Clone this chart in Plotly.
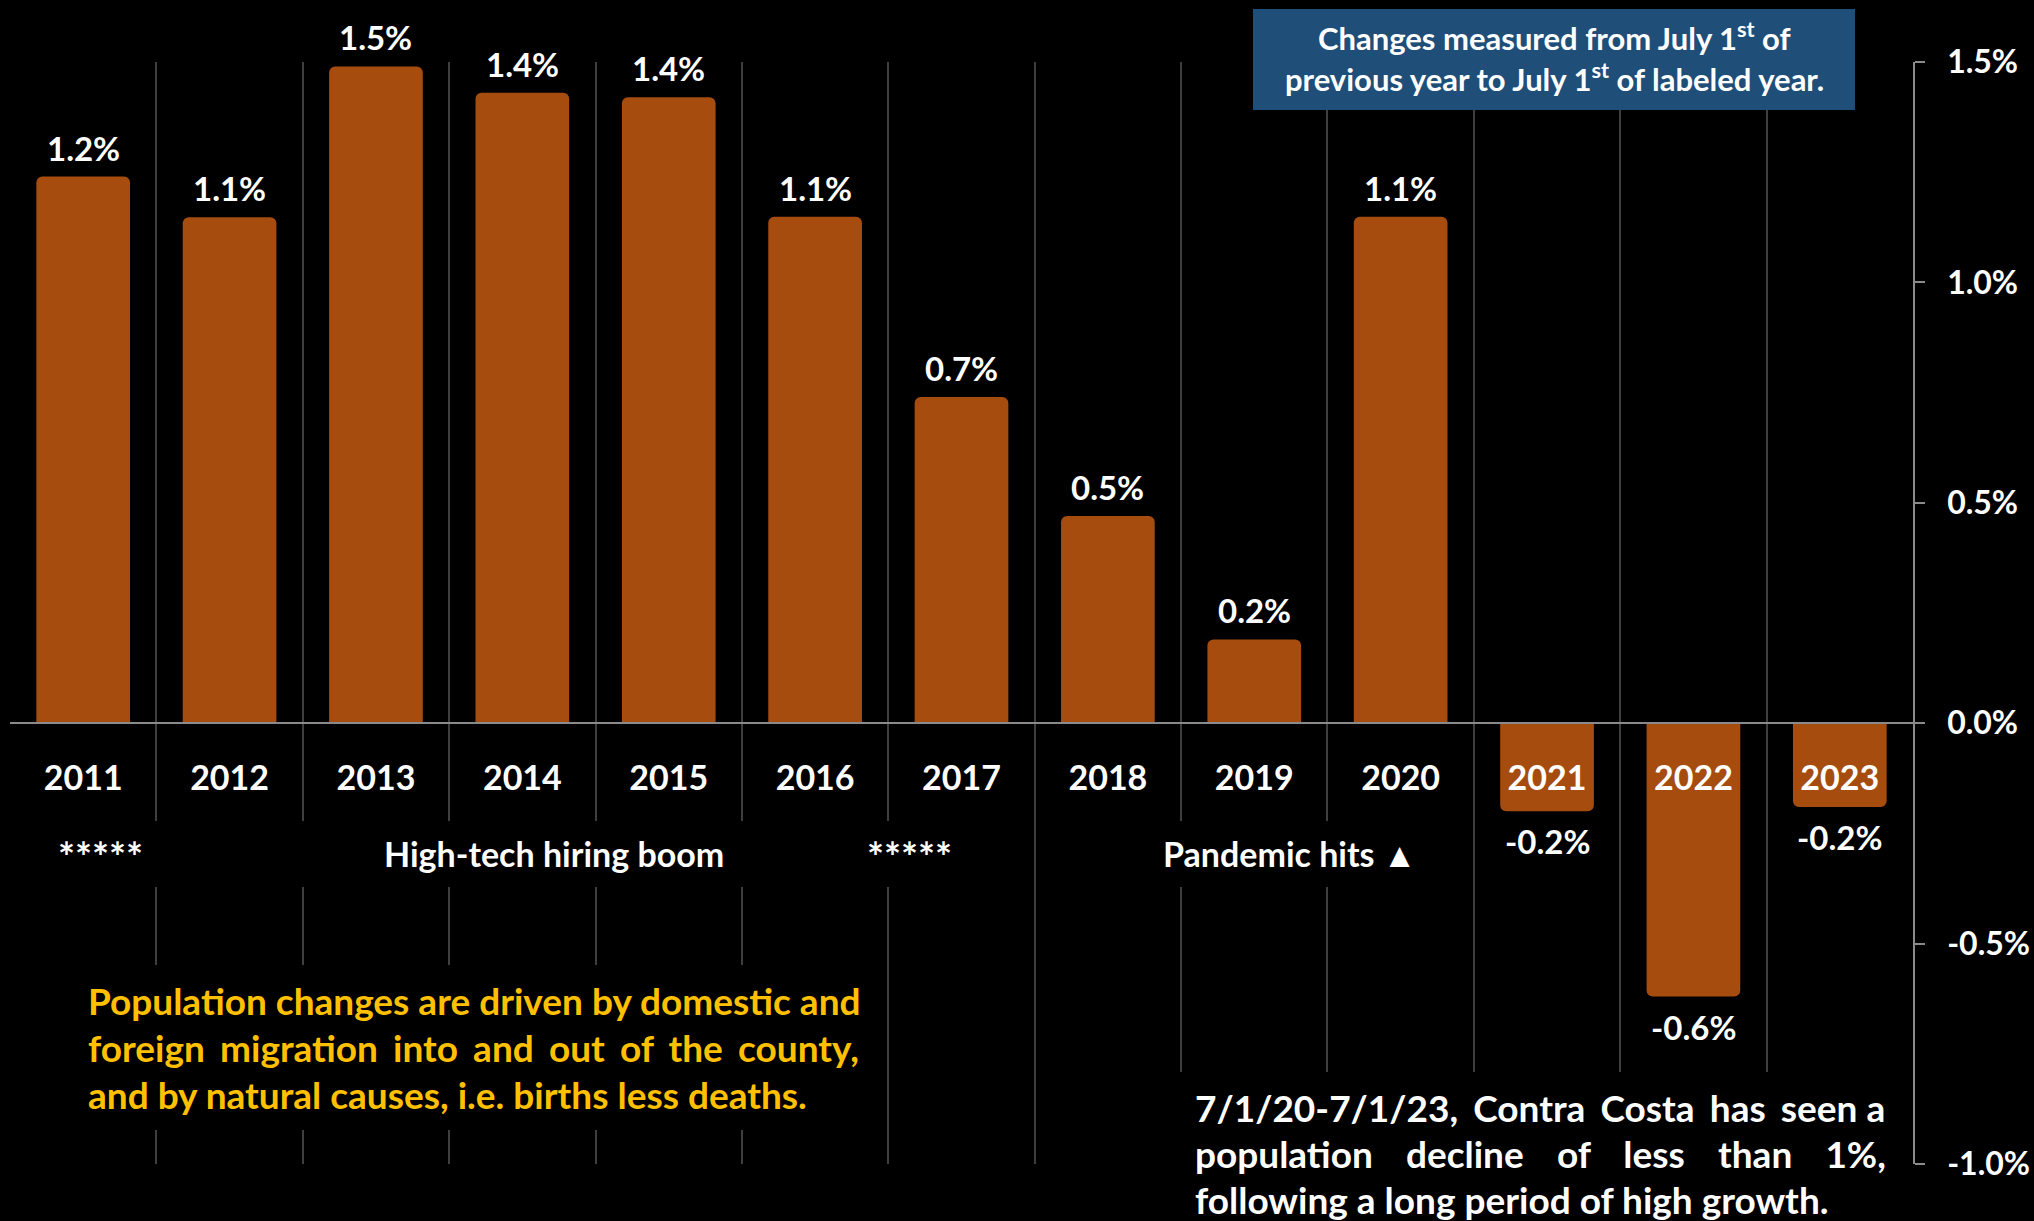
import plotly.graph_objects as go

# Annual population change, Contra Costa County (percent, July 1 to July 1)
years = ["2011", "2012", "2013", "2014", "2015", "2016", "2017",
         "2018", "2019", "2020", "2021", "2022", "2023"]
growth_pct = [1.24, 1.148, 1.49, 1.43, 1.42, 1.149, 0.74,
              0.47, 0.19, 1.149, -0.20, -0.62, -0.19]
bar_labels = [f"{v:.1f}%" for v in growth_pct]

y_tick_vals = [-1.0, -0.5, 0.0, 0.5, 1.0, 1.5]
y_tick_text = ["-1.0%", "-0.5%", "0.0%", "0.5%", "1.0%", "1.5%"]

# Canvas and plot-area geometry (pixels)
FIG_W, FIG_H = 2034, 1221
ML, MR, MT, MB = 10, 121, 62, 57
PLOT_W = FIG_W - ML - MR
PLOT_H = FIG_H - MT - MB


def px(x):
    return (x - ML) / PLOT_W


def py(y):
    return (FIG_H - MB - y) / PLOT_H


FONT = "Lato"
BAR_COLOR = "#A64C0F"
GRID_COLOR = "#3E3E3E"
AXIS_COLOR = "#8A8A8A"
BOX_BLUE = "#1F4E79"
NOTE_GOLD = "#FFC000"
NB = "\u00a0"      # no-break space
SIX = "\u2006"     # six-per-em space, for fine word spacing

fig = go.Figure(
    go.Bar(
        x=years,
        y=growth_pct,
        width=0.64,
        marker=dict(color=BAR_COLOR, cornerradius=6, line=dict(width=0)),
        cliponaxis=False,
        hoverinfo="skip",
    )
)

shapes = []
annotations = []

# Value labels just beyond the end of each bar (x given as category index)
for i, (v, lab) in enumerate(zip(growth_pct, bar_labels)):
    annotations.append(dict(
        text=lab, x=i, y=v, xref="x", yref="y",
        xanchor="center", yanchor="middle",
        yshift=29 if v >= 0 else -30,
        showarrow=False,
        font=dict(family=FONT, size=33, color="white", weight="bold"),
    ))


def blackout(x0, x1, y0, y1, color="black"):
    shapes.append(dict(type="rect", xref="paper", yref="paper",
                       x0=px(x0), x1=px(x1), y0=py(y1), y1=py(y0),
                       fillcolor=color, line=dict(width=0), layer="above"))


def note(text, x, y, size=34, color="white", xanchor="center"):
    annotations.append(dict(text=text, xref="paper", yref="paper",
                            x=px(x), y=py(y), xanchor=xanchor, yanchor="middle",
                            showarrow=False,
                            font=dict(family=FONT, size=size, color=color,
                                      weight="bold")))


def spaced(line, gaps):
    # join the words of a line with the given separators (justified look)
    words = line.split()
    out = words[0]
    for w, g in zip(words[1:], gaps):
        out += g + w
    return out


# Period captions under the year labels
blackout(30, 1000, 821, 887)
note("*****", 100, 857, size=40)
note("High-tech hiring boom", 554, 853)
note("*****", 909, 857, size=40)

blackout(1100, 1440, 821, 887)
note("Pandemic hits \u25B2", 1289, 853)

# Explanatory notes
blackout(60, 872, 965, 1130)
gold_lines = [
    "Population changes are driven by domestic and",
    spaced("foreign migration into and out of the county,", [NB + SIX] * 7),
    "and by natural causes, i.e. births less deaths.",
]
for i, line in enumerate(gold_lines):
    note(line, 86, 1000 + 47 * i, size=37, color=NOTE_GOLD, xanchor="left")

blackout(1170, 1896, 1072, 1221)
white_lines = [
    spaced("7/1/20-7/1/23, Contra Costa has seen a",
           [NB + SIX, NB + SIX, NB + SIX, NB + SIX, NB]),
    spaced("population decline of less than 1%,", [NB * 3 + SIX] * 5),
    "following a long period of high growth.",
]
for i, line in enumerate(white_lines):
    note(line, 1193, 1107 + 46 * i, size=37, xanchor="left")

# Measurement-period box
blackout(1253, 1855, 9, 110, color=BOX_BLUE)
note("Changes measured from July 1<sup>st</sup> of", 1554, 37, size=31)
note("previous year to July 1<sup>st</sup> of labeled year.", 1554, 77, size=31)

fig.update_layout(
    width=FIG_W,
    height=FIG_H,
    margin=dict(l=ML, r=MR, t=MT, b=MB, autoexpand=False),
    paper_bgcolor="black",
    plot_bgcolor="black",
    showlegend=False,
    shapes=shapes,
    annotations=annotations,
    xaxis=dict(
        type="category",
        range=[-0.5, 12.5],
        anchor="free",
        position=0.4,
        showline=True,
        linecolor=AXIS_COLOR,
        linewidth=1.5,
        tickson="boundaries",
        ticks="",
        showgrid=True,
        gridcolor=GRID_COLOR,
        gridwidth=1.5,
        zeroline=False,
        tickfont=dict(family=FONT, size=34, color="white", weight="bold"),
        ticklabelstandoff=25,
        layer="above traces",
        fixedrange=True,
    ),
    yaxis=dict(
        side="right",
        range=[-1.0, 1.5],
        tickvals=y_tick_vals,
        ticktext=y_tick_text,
        showline=True,
        linecolor=AXIS_COLOR,
        linewidth=1.5,
        ticks="outside",
        ticklen=10,
        tickwidth=1.5,
        tickcolor=AXIS_COLOR,
        showgrid=False,
        zeroline=False,
        tickfont=dict(family=FONT, size=32, color="white", weight="bold"),
        ticklabelstandoff=16,
        automargin=False,
        fixedrange=True,
    ),
)

fig.write_html("out.html")
